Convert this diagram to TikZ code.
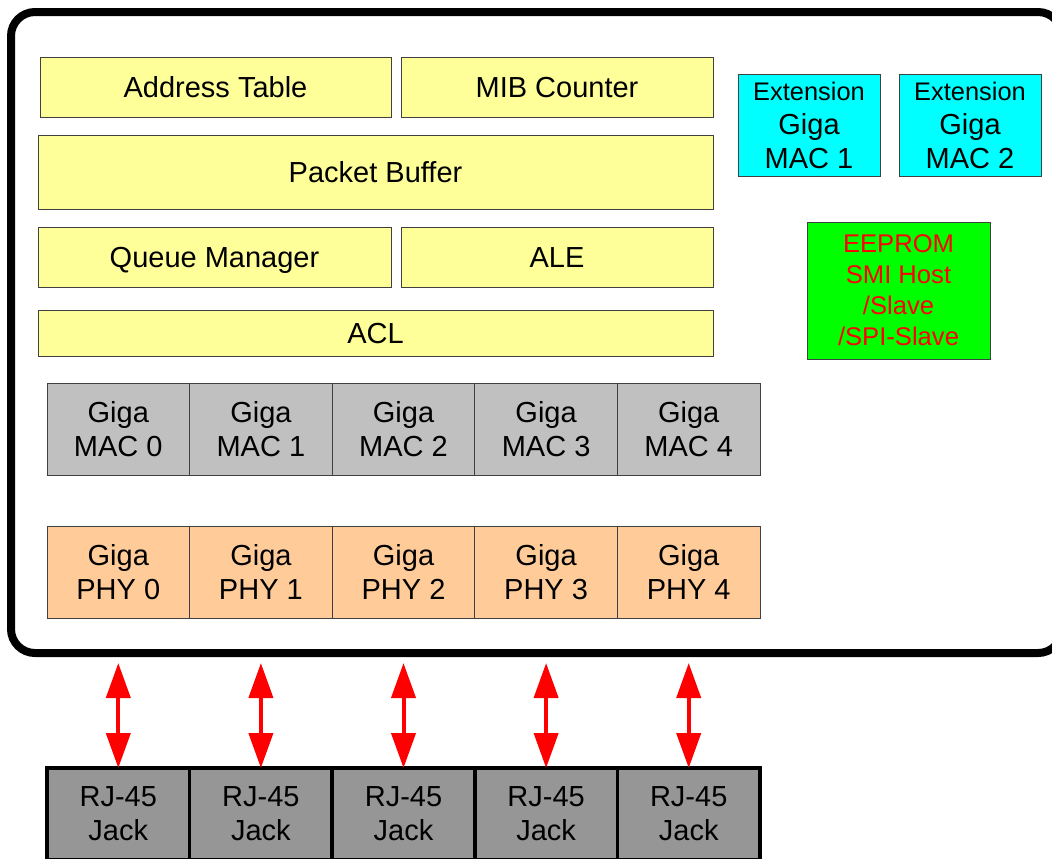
\documentclass[tikz,border=0pt]{standalone}
\usepackage{fontspec}
\setmainfont{Liberation Sans}
\usetikzlibrary{positioning,arrows.meta}

\definecolor{coreyellow}{HTML}{FFFF99}
\definecolor{extcyan}{HTML}{00FFFF}
\definecolor{eepgreen}{HTML}{00FF00}
\definecolor{macgray}{HTML}{C0C0C0}
\definecolor{phyorange}{HTML}{FFCC99}
\definecolor{jackgray}{HTML}{969696}

\begin{document}
\begin{tikzpicture}[x=0.5pt,y=-0.5pt,
  block/.style={draw=black!75, line width=0.5pt, inner sep=0pt, outer sep=0pt,
    align=center, font=\fontsize{14.5}{17}\selectfont},
  boxsize/.style 2 args={minimum width=#1, minimum height=#2},
  core/.style={block, fill=coreyellow, text height=13.5pt, text depth=3pt},
  ext/.style={block, fill=extcyan, boxsize={71pt}{51pt}},
  mac/.style={block, fill=macgray, boxsize={71.3pt}{46pt}},
  phy/.style={block, fill=phyorange, boxsize={71.3pt}{46pt}},
  jack/.style={block, draw=black, line width=1.75pt, fill=jackgray, boxsize={71.3pt}{46pt}},
  frame/.style={draw=black, line width=4pt, rounded corners=12pt},
  duplex/.style={red, line width=2pt, {Triangle[length=17.5pt,width=12pt]}-{Triangle[length=17.5pt,width=12pt]}}]
\useasboundingbox (0,0) rectangle (1052,858);
% Chip outline
\draw[frame] (11,12) rectangle (1062,653);
% Switch core
\node[core, boxsize={175.5pt}{30pt}] (addr) at (215.5,87) {Address Table};
\node[core, boxsize={156pt}{30pt}] (mib) at (557,87) {MIB Counter};
\node[core, boxsize={337.5pt}{37pt}] (pbuf) at (375.5,172) {Packet Buffer};
\node[core, boxsize={176.5pt}{30pt}] (queue) at (214.5,257) {Queue Manager};
\node[core, boxsize={156pt}{30pt}] (ale) at (557,257) {ALE};
\node[core, boxsize={337.5pt}{23pt}] (acl) at (375.5,333) {ACL};
% Extension ports and management
\node[ext] (ext1) at (809,125) {{\fontsize{12.7}{17}\selectfont Extension}\\Giga\\MAC 1};
\node[ext] (ext2) at (970,125) {{\fontsize{12.7}{17}\selectfont Extension}\\Giga\\MAC 2};
\node[block, fill=eepgreen, text=red, boxsize={91.5pt}{68.5pt},
  font=\fontsize{12.8}{15.5}\selectfont] (eeprom) at (898.5,290.5)
  {EEPROM\\SMI Host\\/Slave\\/SPI-Slave};
% MAC row
\node[mac] (mac0) at (118.3,429) {Giga\\MAC 0};
\node[mac, right=0pt of mac0] (mac1) {Giga\\MAC 1};
\node[mac, right=0pt of mac1] (mac2) {Giga\\MAC 2};
\node[mac, right=0pt of mac2] (mac3) {Giga\\MAC 3};
\node[mac, right=0pt of mac3] (mac4) {Giga\\MAC 4};
% PHY row
\node[phy, below=25.5pt of mac0] (phy0) {Giga\\PHY 0};
\node[phy, right=0pt of phy0] (phy1) {Giga\\PHY 1};
\node[phy, right=0pt of phy1] (phy2) {Giga\\PHY 2};
\node[phy, right=0pt of phy2] (phy3) {Giga\\PHY 3};
\node[phy, right=0pt of phy3] (phy4) {Giga\\PHY 4};
% Jacks
\node[jack, below=75pt of phy0] (jack0) {RJ-45\\Jack};
\node[jack, right=0pt of jack0] (jack1) {RJ-45\\Jack};
\node[jack, right=0pt of jack1] (jack2) {RJ-45\\Jack};
\node[jack, right=0pt of jack2] (jack3) {RJ-45\\Jack};
\node[jack, right=0pt of jack3] (jack4) {RJ-45\\Jack};
% Links
\draw[duplex, shorten <=22.5pt] (phy0.south) -- (jack0.north);
\draw[duplex, shorten <=22.5pt] (phy1.south) -- (jack1.north);
\draw[duplex, shorten <=22.5pt] (phy2.south) -- (jack2.north);
\draw[duplex, shorten <=22.5pt] (phy3.south) -- (jack3.north);
\draw[duplex, shorten <=22.5pt] (phy4.south) -- (jack4.north);
\end{tikzpicture}
\end{document}
